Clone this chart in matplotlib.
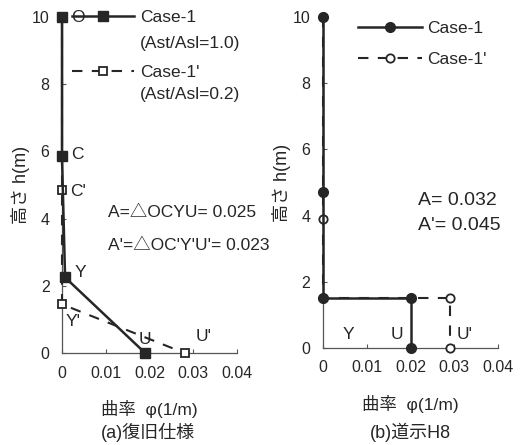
import matplotlib
matplotlib.use("Agg")
import matplotlib.pyplot as plt
from matplotlib.lines import Line2D

plt.rcParams['font.family'] = ['Liberation Sans', 'Noto Sans CJK JP', 'DejaVu Sans']

# ---- data: left panel (a) ----
a_case1_phi = [0.0, 0.0, 0.0007, 0.019]
a_case1_h = [10.0, 5.85, 2.25, 0.0]
a_case1p_phi = [0.0, 0.0, 0.0, 0.028]
a_case1p_h = [10.0, 4.85, 1.45, 0.0]

# ---- data: right panel (b) ----
b_case1_phi = [0.0, 0.0, 0.0, 0.020, 0.020]
b_case1_h = [10.0, 4.7, 1.5, 1.5, 0.0]
b_case1p_phi = [0.0, 0.0, 0.0, 0.029, 0.029]
b_case1p_h = [10.0, 3.9, 1.5, 1.5, 0.0]

x_ticks = [0, 0.01, 0.02, 0.03, 0.04]
x_ticklabels = ['0', '0.01', '0.02', '0.03', '0.04']
y_ticks = [0, 2, 4, 6, 8, 10]
y_ticklabels = ['0', '2', '4', '6', '8', '10']

C = '#262626'
FS = 11.5
FL = 12.5
DASH = (0, (5, 4.5))

fig = plt.figure(figsize=(5.22, 4.45), dpi=100)
ax1 = fig.add_axes([62/522, 1-353/445, 175/522, 336/445])
ax2 = fig.add_axes([323/522, 1-348/445, 175/522, 331/445])

def style(ax):
    ax.set_xlim(0, 0.04)
    ax.set_ylim(0, 10)
    ax.set_xticks(x_ticks)
    ax.set_xticklabels(x_ticklabels)
    ax.set_yticks(y_ticks)
    ax.set_yticklabels(y_ticklabels)
    for s in ['top', 'right']:
        ax.spines[s].set_visible(False)
    for s in ['left', 'bottom']:
        ax.spines[s].set_color('#555555')
        ax.spines[s].set_linewidth(0.9)
    ax.tick_params(direction='in', length=3, colors='#555555', labelcolor=C,
                   labelsize=FS, pad=9)
    ax.set_xlabel('曲率  φ(1/m)', fontsize=12.5, color=C, labelpad=14)
    ax.set_ylabel('高さ h(m)', fontsize=13, color=C, labelpad=1)

style(ax1)
style(ax2)

# panel (a)
ax1.plot(a_case1p_phi, a_case1p_h, color=C, lw=1.5, ls=DASH, marker='s',
         ms=6, mfc='white', mec=C, mew=1.3, clip_on=False, zorder=3)
ax1.plot(a_case1_phi, a_case1_h, color=C, lw=1.8, marker='s', ms=6.5,
         mfc=C, mec=C, clip_on=False, zorder=4)

leg1 = ax1.legend(
    handles=[Line2D([], [], color=C, lw=1.8, marker='s', ms=6.5, mfc=C, mec=C),
             Line2D([], [], color=C, lw=1.5, ls=DASH, marker='s', ms=6,
                    mfc='white', mec=C, mew=1.3)],
    labels=['Case-1', "Case-1'"], loc='upper left',
    bbox_to_anchor=(0.057, 1.02), frameon=False, fontsize=FL,
    handlelength=3.6, handletextpad=0.3, labelspacing=2.25,
    borderpad=0, borderaxespad=0)
for t in leg1.get_texts():
    t.set_color(C)
ax1.text(0.445, 0.9226, '(Ast/Asl=1.0)', transform=ax1.transAxes, fontsize=FL,
         color=C, va='center', ha='left', clip_on=False)
ax1.text(0.445, 0.768, '(Ast/Asl=0.2)', transform=ax1.transAxes, fontsize=FL,
         color=C, va='center', ha='left', clip_on=False)

for txt, x, y in [('O', 0.0022, 10.0), ('C', 0.0022, 5.9), ("C'", 0.0018, 4.8),
                  ('Y', 0.0028, 2.4), ("Y'", 0.0008, 0.95), ('U', 0.0175, 0.4),
                  ("U'", 0.0305, 0.5)]:
    ax1.text(x, y, txt, fontsize=FL, color=C, ha='left', va='center',
             clip_on=False, zorder=5)
ax1.text(0.0105, 4.17, 'A=△OCYU= 0.025', fontsize=FL, color=C,
         ha='left', va='center', clip_on=False)
ax1.text(0.0105, 3.2, "A'=△OC'Y'U'= 0.023", fontsize=FL, color=C,
         ha='left', va='center', clip_on=False)

# panel (b)
ax2.plot(b_case1p_phi, b_case1p_h, color=C, lw=1.5, ls=DASH, marker='o',
         ms=6, mfc='white', mec=C, mew=1.3, clip_on=False, zorder=3)
ax2.plot(b_case1_phi, b_case1_h, color=C, lw=1.8, marker='o', ms=7,
         mfc=C, mec=C, clip_on=False, zorder=4)
leg2 = ax2.legend(
    handles=[Line2D([], [], color=C, lw=1.8, marker='o', ms=7, mfc=C, mec=C),
             Line2D([], [], color=C, lw=1.5, ls=DASH, marker='o', ms=6,
                    mfc='white', mec=C, mew=1.3)],
    labels=['Case-1', "Case-1'"], loc='upper left',
    bbox_to_anchor=(0.2, 0.988), frameon=False, fontsize=FL,
    handlelength=3.7, handletextpad=0.3, labelspacing=0.92,
    borderpad=0, borderaxespad=0)
for t in leg2.get_texts():
    t.set_color(C)

for txt, x, y in [('Y', 0.0045, 0.42), ('U', 0.0155, 0.42), ("U'", 0.0305, 0.42)]:
    ax2.text(x, y, txt, fontsize=FL, color=C, ha='left', va='center',
             clip_on=False, zorder=5)
ax2.text(0.0216, 4.47, 'A= 0.032', fontsize=14, color=C, ha='left',
         va='center', clip_on=False)
ax2.text(0.0216, 3.69, "A'= 0.045", fontsize=14, color=C, ha='left',
         va='center', clip_on=False)

fig.text(148/522, 1-432/445, '(a)復旧仕様', fontsize=13, color=C,
         ha='center', va='center')
fig.text(410/522, 1-432/445, '(b)道示H8', fontsize=13, color=C,
         ha='center', va='center')

fig.savefig('out.png', dpi=100, facecolor='white')
